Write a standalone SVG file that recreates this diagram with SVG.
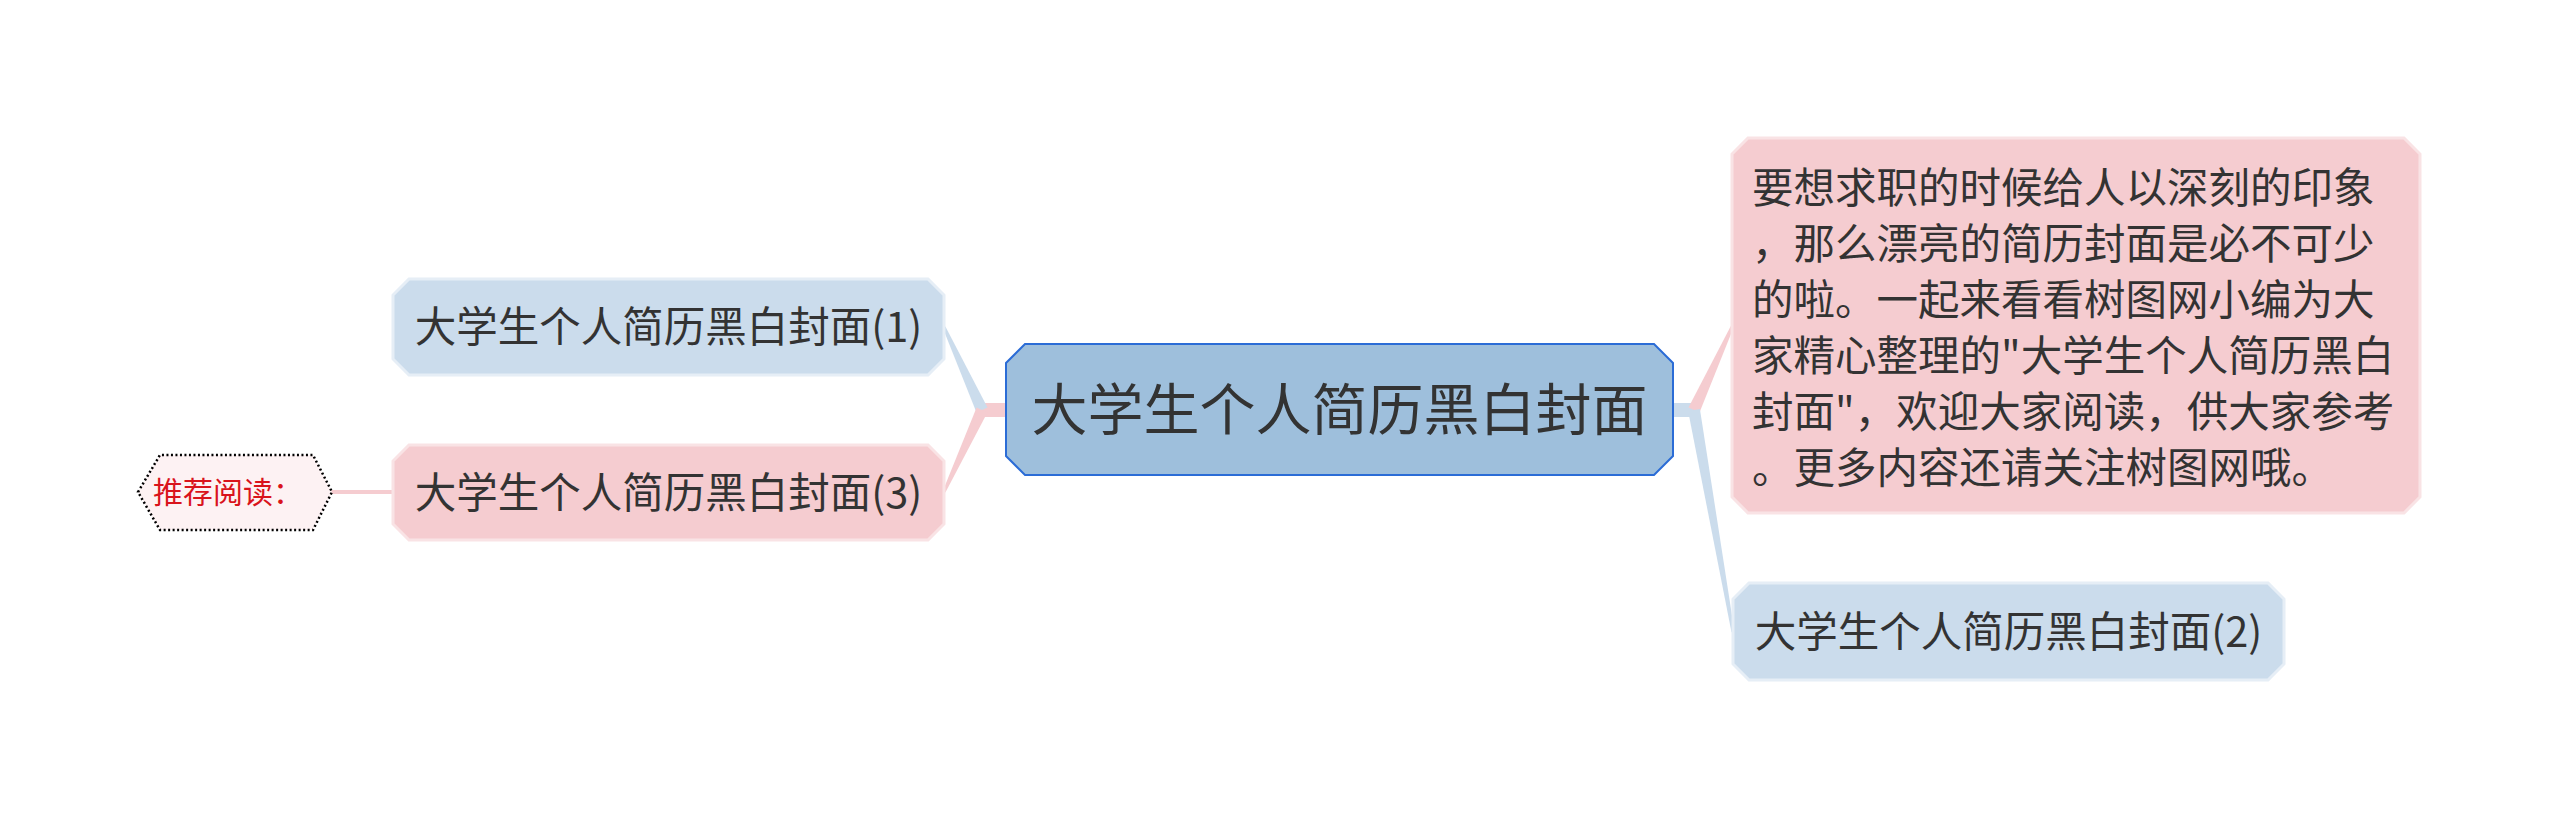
<svg xmlns="http://www.w3.org/2000/svg" width="2560" height="819" viewBox="0 0 2560 819">
<style>
.t{font-family:"Noto Sans CJK SC","Noto Sans",sans-serif;fill:#333333}
.blue{fill:#cbdcec;stroke:#e6eef6;stroke-width:3}
.pink{fill:#f5ccd0;stroke:#f9e3e5;stroke-width:3}
.cb{fill:#cbdcec}
.cp{fill:#f5ccd0}
</style>
<rect width="2560" height="819" fill="#ffffff"/>
<g id="connectors">
<rect class="cp" x="976" y="403" width="31" height="14"/>
<polygon class="cb" points="987.5,407.5 976.5,412.5 942.6,327.6 945.4,326.4"/>
<polygon class="cp" points="987.4,412.5 976.6,407.5 942.6,491.4 945.4,492.6"/>
<rect class="cb" x="1672" y="403" width="28" height="14"/>
<polygon class="cp" points="1699.5,412.5 1688.5,407.5 1731.6,324.4 1734.4,325.6"/>
<polygon class="cb" points="1699.9,409 1688.1,411 1731.5,632.3 1734.5,631.7"/>
<line x1="330" y1="492" x2="395" y2="492" stroke="#f5ccd0" stroke-width="4"/>
</g>
<g id="root">
<polygon points="1025,344 1654,344 1673,363 1673,456 1654,475 1025,475 1006,456 1006,363" fill="#9ebfdc" stroke="#2b6cd6" stroke-width="2"/>
<text class="t" x="1339.5" y="430" font-size="56" text-anchor="middle">大学生个人简历黑白封面</text>
</g>
<g id="node1">
<polygon class="blue" points="409,279 928,279 944,295 944,359 928,375 409,375 393,359 393,295"/>
<text class="t" x="668.5" y="342" font-size="41.5" text-anchor="middle">大学生个人简历黑白封面(1)</text>
</g>
<g id="node3">
<polygon class="pink" points="409,445 928,445 944,461 944,524 928,540 409,540 393,524 393,461"/>
<text class="t" x="668.5" y="507.5" font-size="41.5" text-anchor="middle">大学生个人简历黑白封面(3)</text>
</g>
<g id="recommend">
<polygon points="138,492 160,455 313,455 332,492 313,530 160,530" fill="#fdf2f3" stroke="#000000" stroke-width="2.5" stroke-dasharray="2,2.5"/>
<text x="153" y="503" font-size="30" fill="#d9141c" font-family="Noto Sans CJK SC, sans-serif">推荐阅读：</text>
</g>
<g id="desc">
<polygon class="pink" points="1748,138 2404,138 2420,154 2420,497 2404,513 1748,513 1732,497 1732,154"/>
<text class="t" font-size="41.5">
<tspan x="1752" y="203">要想求职的时候给人以深刻的印象</tspan>
<tspan x="1752" y="259">，那么漂亮的简历封面是必不可少</tspan>
<tspan x="1752" y="315">的啦。一起来看看树图网小编为大</tspan>
<tspan x="1752" y="371">家精心整理的"大学生个人简历黑白</tspan>
<tspan x="1752" y="427">封面"，欢迎大家阅读，供大家参考</tspan>
<tspan x="1752" y="483">。更多内容还请关注树图网哦。</tspan>
</text>
</g>
<g id="node2">
<polygon class="blue" points="1749,583 2268,583 2284,599 2284,664 2268,680 1749,680 1733,664 1733,599"/>
<text class="t" x="2008.5" y="646.5" font-size="41.5" text-anchor="middle">大学生个人简历黑白封面(2)</text>
</g>
</svg>
